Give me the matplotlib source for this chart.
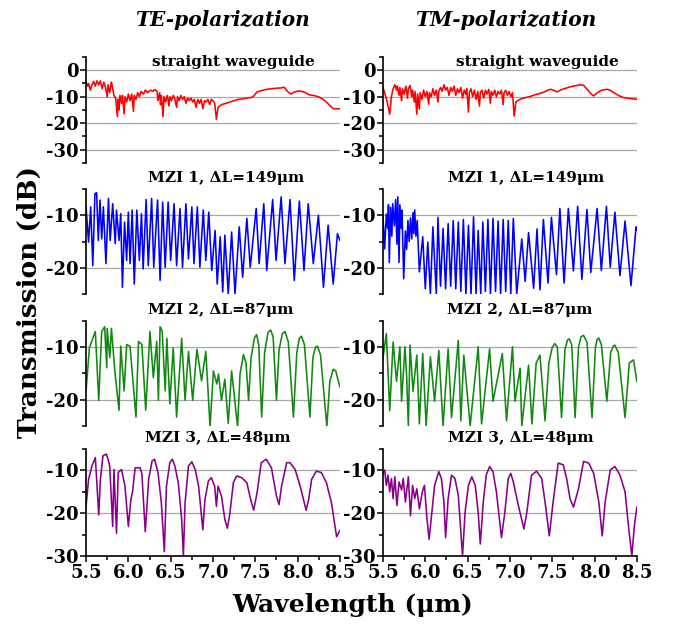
import matplotlib
matplotlib.use("Agg")
import matplotlib.pyplot as plt
from matplotlib.ticker import MultipleLocator, FormatStrFormatter

plt.rcParams["font.family"] = ["DejaVu Serif"]
plt.rcParams["font.weight"] = "bold"
plt.rcParams["axes.unicode_minus"] = False

OUTPUT_PATH = "out.png"

# straight waveguide, TE
te_straight_wl = [
    5.50, 5.52, 5.53, 5.55, 5.57, 5.59, 5.61, 5.63, 5.65, 5.67, 5.69, 5.71, 5.73, 5.75,
    5.76, 5.78, 5.80, 5.81, 5.83, 5.85, 5.87, 5.88, 5.89, 5.90, 5.92, 5.93, 5.95, 5.96,
    5.98, 6.00, 6.02, 6.04, 6.06, 6.07, 6.09, 6.11, 6.13, 6.15, 6.18, 6.20, 6.23, 6.26,
    6.29, 6.31, 6.34, 6.35, 6.37, 6.38, 6.39, 6.41, 6.42, 6.44, 6.46, 6.48, 6.49, 6.51,
    6.53, 6.55, 6.57, 6.58, 6.60, 6.62, 6.64, 6.66, 6.68, 6.70, 6.72, 6.74, 6.76, 6.78,
    6.80, 6.82, 6.84, 6.86, 6.88, 6.90, 6.92, 6.94, 6.96, 6.98, 7.00, 7.02, 7.04, 7.06,
    7.10, 7.15, 7.20, 7.25, 7.30, 7.35, 7.40, 7.45, 7.48, 7.52, 7.56, 7.62, 7.68, 7.74,
    7.80, 7.84, 7.88, 7.92, 7.96, 8.02, 8.08, 8.14, 8.20, 8.26, 8.30, 8.34, 8.38, 8.42,
    8.46, 8.50,
]
te_straight_db = [
    -4.5, -6.0, -5.0, -7.5, -5.5, -4.2, -6.0, -4.0, -5.5, -4.0, -7.0, -4.5, -6.5, -10.0,
    -5.5, -8.5, -4.5, -6.0, -9.5, -10.5, -17.5, -11.0, -15.0, -9.5, -12.5, -9.5, -16.5, -10.0,
    -12.0, -9.0, -11.5, -9.0, -15.5, -9.5, -11.0, -8.5, -10.0, -8.0, -9.0, -7.5, -8.5, -7.5,
    -8.0, -7.3, -8.0, -11.5, -8.5, -13.0, -9.5, -17.5, -10.0, -12.0, -9.5, -13.5, -10.0, -11.5,
    -9.5, -11.0, -14.0, -10.0, -11.5, -9.5, -11.0, -10.0, -12.5, -10.5, -11.5, -10.5, -12.0, -11.0,
    -14.0, -11.0, -12.5, -11.0, -14.5, -11.5, -12.0, -11.0, -13.0, -11.0, -11.5, -12.5, -18.5, -14.0,
    -13.0, -12.5, -12.0, -11.5, -11.0, -10.8, -10.5, -10.3, -9.8, -8.2, -7.8, -7.3, -7.0, -6.8,
    -6.7, -6.4, -8.0, -9.0, -8.2, -7.8, -8.3, -9.3, -9.6, -10.2, -11.0, -12.0, -13.3, -14.5,
    -14.6, -14.5,
]

# straight waveguide, TM
tm_straight_wl = [
    5.50, 5.52, 5.55, 5.58, 5.60, 5.62, 5.64, 5.66, 5.67, 5.69, 5.70, 5.72, 5.73, 5.75,
    5.77, 5.79, 5.80, 5.82, 5.84, 5.85, 5.87, 5.88, 5.90, 5.91, 5.93, 5.94, 5.96, 5.98,
    6.00, 6.02, 6.04, 6.05, 6.07, 6.09, 6.11, 6.13, 6.15, 6.16, 6.18, 6.20, 6.22, 6.24,
    6.26, 6.28, 6.30, 6.32, 6.34, 6.36, 6.38, 6.40, 6.42, 6.44, 6.46, 6.48, 6.49, 6.51,
    6.52, 6.54, 6.56, 6.58, 6.60, 6.62, 6.64, 6.65, 6.67, 6.69, 6.71, 6.73, 6.75, 6.77,
    6.78, 6.80, 6.82, 6.84, 6.86, 6.88, 6.90, 6.92, 6.93, 6.95, 6.97, 6.99, 7.01, 7.03,
    7.05, 7.07, 7.09, 7.12, 7.16, 7.20, 7.25, 7.30, 7.35, 7.40, 7.45, 7.48, 7.52, 7.56,
    7.60, 7.66, 7.72, 7.78, 7.84, 7.87, 7.92, 7.96, 7.99, 8.03, 8.08, 8.14, 8.18, 8.22,
    8.28, 8.34, 8.40, 8.45, 8.50,
]
tm_straight_db = [
    -6.5, -8.5, -12.0, -16.6, -10.0, -7.0, -5.5, -7.5, -6.0, -9.5, -6.5, -11.5, -7.0, -9.0,
    -6.0, -10.5, -7.0, -5.8, -10.0, -7.5, -12.0, -8.0, -16.6, -9.0, -14.7, -8.5, -11.0, -7.5,
    -10.0, -8.0, -12.8, -8.5, -10.0, -7.0, -9.5, -7.5, -12.0, -8.0, -6.5, -8.0, -5.5, -7.5,
    -6.5, -9.5, -6.5, -8.0, -6.0, -9.5, -7.0, -8.5, -6.5, -10.5, -7.5, -9.0, -7.0, -15.8,
    -8.5, -7.0, -10.0, -7.5, -11.0, -8.0, -13.5, -8.5, -7.5, -10.5, -7.5, -9.0, -7.2, -12.5,
    -8.0, -9.5, -7.5, -10.0, -8.0, -9.0, -7.5, -13.0, -8.5, -7.6, -9.5, -8.0, -10.0, -8.5,
    -17.3, -12.0, -11.5, -11.0, -10.5, -10.2, -9.8, -9.2, -8.8, -8.3, -7.5, -7.2, -7.6, -8.2,
    -7.4, -6.8, -6.2, -5.8, -5.5, -5.7, -7.5, -9.0, -9.7, -8.5, -7.6, -7.2, -7.5, -8.3,
    -9.5, -10.3, -10.6, -10.8, -11.0,
]

# MZI 1, dL = 149 um
te_mzi1_wl = [
    5.50, 5.53, 5.555, 5.58, 5.605, 5.625, 5.645, 5.665, 5.685, 5.705, 5.735, 5.765, 5.785,
    5.815, 5.845, 5.86, 5.89, 5.91, 5.93, 5.955, 5.98, 6.00, 6.02, 6.045, 6.07, 6.10, 6.13,
    6.155, 6.175, 6.21, 6.235, 6.275, 6.30, 6.345, 6.375, 6.405, 6.435, 6.47, 6.50, 6.54,
    6.57, 6.61, 6.64, 6.68, 6.71, 6.75, 6.775, 6.815, 6.845, 6.885, 6.915, 6.95, 6.985,
    7.025, 7.05, 7.085, 7.115, 7.14, 7.18, 7.22, 7.26, 7.31, 7.35, 7.40, 7.44, 7.51, 7.545,
    7.60, 7.635, 7.705, 7.745, 7.805, 7.85, 7.91, 7.96, 8.02, 8.075, 8.125, 8.185, 8.245,
    8.305, 8.36, 8.42, 8.47, 8.50,
]
te_mzi1_db = [
    -8.4, -15.1, -8.4, -19.6, -5.9, -5.7, -14.8, -7.1, -14.5, -8.4, -19.2, -6.8, -14.8,
    -7.8, -15.4, -9.0, -14.8, -9.7, -23.7, -11.3, -18.6, -9.4, -19.2, -9.0, -23.1, -9.0, -18.6,
    -9.7, -20.2, -7.0, -19.6, -6.8, -19.9, -7.1, -22.4, -7.5, -19.9, -7.5, -18.6, -7.8,
    -19.6, -8.7, -19.9, -7.8, -18.3, -8.4, -19.2, -8.4, -19.9, -9.0, -18.6, -9.4, -20.5,
    -12.9, -23.1, -14.1, -24.6, -13.8, -25.0, -13.2, -25.0, -12.2, -21.8, -10.6, -19.9, -8.7, -19.2,
    -7.8, -20.5, -7.0, -18.6, -6.5, -19.2, -7.0, -22.4, -7.3, -20.5, -7.8, -19.2, -10.0,
    -23.7, -11.9, -23.1, -13.5, -14.8,
]
tm_mzi1_wl = [
    5.50, 5.52, 5.54, 5.555, 5.565, 5.575, 5.59, 5.605, 5.615, 5.635, 5.65, 5.665, 5.675,
    5.69, 5.70, 5.715, 5.725, 5.745, 5.765, 5.78, 5.795, 5.81, 5.825, 5.84, 5.855, 5.865,
    5.875, 5.89, 5.905, 5.93, 5.97, 6.00, 6.03, 6.06, 6.09, 6.13, 6.15, 6.18, 6.21, 6.24,
    6.27, 6.30, 6.33, 6.36, 6.39, 6.42, 6.45, 6.48, 6.51, 6.54, 6.57, 6.60, 6.625, 6.655,
    6.68, 6.71, 6.74, 6.77, 6.80, 6.83, 6.86, 6.89, 6.92, 6.95, 6.98, 7.01, 7.04, 7.08,
    7.14, 7.18, 7.22, 7.28, 7.32, 7.355, 7.395, 7.45, 7.49, 7.55, 7.59, 7.64, 7.69, 7.75,
    7.80, 7.85, 7.91, 7.955, 8.03, 8.08, 8.14, 8.185, 8.24, 8.30, 8.36, 8.43, 8.49, 8.50,
]
tm_mzi1_db = [
    -10.0, -16.4, -9.8, -12.5, -8.0, -19.0, -8.5, -14.0, -7.8, -12.0, -7.0, -15.5, -6.5,
    -19.0, -8.0, -12.5, -9.0, -22.1, -13.0, -16.5, -11.0, -15.0, -10.5, -14.5, -9.5, -13.5,
    -9.0, -14.0, -11.0, -20.8, -14.1, -24.0, -15.1, -25.0, -12.2, -25.0, -10.4, -23.5, -12.5, -24.0,
    -11.6, -23.5, -11.0, -24.0, -11.3, -24.5, -10.8, -25.0, -11.9, -25.0, -10.3, -25.0, -12.9, -25.0,
    -11.3, -24.5, -10.8, -25.0, -10.6, -24.5, -11.1, -25.0, -10.8, -24.5, -11.0, -25.0, -10.6, -25.0,
    -14.5, -22.6, -13.3, -23.9, -12.6, -24.2, -10.8, -22.9, -10.4, -21.3, -8.7, -22.9, -8.7, -20.6,
    -8.3, -22.2, -8.9, -20.9, -8.7, -20.5, -8.3, -19.9, -9.4, -21.5, -11.1, -23.4, -12.2, -12.8,
]

# MZI 2, dL = 87 um
te_mzi2_wl = [
    5.50, 5.54, 5.61, 5.65, 5.685, 5.72, 5.745, 5.75, 5.78, 5.80, 5.84, 5.89, 5.91, 5.95,
    5.98, 6.02, 6.09, 6.12, 6.16, 6.205, 6.255, 6.295, 6.335, 6.355, 6.375, 6.40, 6.435,
    6.455, 6.49, 6.53, 6.57, 6.63, 6.67, 6.71, 6.76, 6.81, 6.865, 6.915, 6.965, 7.005,
    7.045, 7.065, 7.10, 7.14, 7.18, 7.22, 7.29, 7.32, 7.36, 7.39, 7.42, 7.45, 7.49, 7.515,
    7.54, 7.575, 7.61, 7.65, 7.68, 7.71, 7.75, 7.78, 7.82, 7.85, 7.89, 7.95, 7.99, 8.02,
    8.045, 8.08, 8.145, 8.18, 8.21, 8.235, 8.27, 8.345, 8.38, 8.42, 8.45, 8.50,
]
te_mzi2_db = [
    -18.3, -10.1, -7.0, -20.1, -7.0, -6.1, -13.9, -6.4, -12.0, -6.4, -14.5, -22.0, -9.8, -18.3,
    -9.5, -9.8, -23.3, -8.9, -9.5, -22.0, -7.0, -15.8, -8.9, -20.1, -6.1, -7.0, -18.3,
    -8.3, -20.8, -10.1, -23.3, -8.3, -20.1, -10.8, -20.1, -10.4, -16.4, -10.8, -25.1, -14.5,
    -17.0, -15.1, -20.1, -16.1, -24.5, -14.5, -25.1, -15.0, -11.4, -13.0, -20.1, -12.0, -8.2, -7.6,
    -9.5, -23.3, -11.0, -7.2, -6.7, -8.0, -20.1, -10.5, -7.4, -7.0, -9.0, -23.3, -11.0, -8.3,
    -7.9, -9.5, -23.3, -12.0, -10.0, -9.8, -11.5, -25.1, -16.5, -14.2, -14.5, -17.6,
]
tm_mzi2_wl = [
    5.50, 5.54, 5.58, 5.62, 5.66, 5.70, 5.72, 5.76, 5.78, 5.80, 5.82, 5.855, 5.90, 5.93,
    5.97, 6.01, 6.06, 6.11, 6.16, 6.21, 6.27, 6.31, 6.39, 6.42, 6.455, 6.53, 6.625, 6.665,
    6.76, 6.80, 6.91, 6.96, 7.03, 7.06, 7.12, 7.14, 7.22, 7.26, 7.31, 7.355, 7.415, 7.46,
    7.50, 7.53, 7.56, 7.61, 7.65, 7.68, 7.70, 7.73, 7.77, 7.81, 7.84, 7.87, 7.91, 7.97,
    8.01, 8.03, 8.05, 8.08, 8.145, 8.19, 8.22, 8.24, 8.28, 8.36, 8.41, 8.46, 8.50,
]
tm_mzi2_db = [
    -12.1, -7.4, -22.1, -9.0, -16.5, -9.9, -20.3, -9.9, -15.6, -25.0, -9.6, -18.4, -11.5, -24.6,
    -11.2, -25.0, -11.8, -20.3, -10.6, -25.0, -10.3, -23.4, -8.7, -24.0, -11.5, -25.0, -9.9, -24.6,
    -10.3, -20.3, -11.2, -24.0, -9.9, -20.3, -14.0, -25.0, -13.4, -24.6, -13.0, -11.5, -24.0, -13.0,
    -10.0, -9.3, -10.0, -23.4, -10.5, -8.6, -8.4, -9.5, -23.4, -10.0, -8.0, -7.75, -9.0, -23.4,
    -10.0, -8.5, -8.25, -9.5, -20.3, -11.0, -9.8, -9.6, -11.0, -23.4, -13.0, -12.4, -16.5,
]

# MZI 3, dL = 48 um
te_mzi3_wl = [
    5.50, 5.53, 5.57, 5.61, 5.63, 5.65, 5.67, 5.70, 5.74, 5.76, 5.78, 5.815, 5.83, 5.86,
    5.88, 5.92, 5.96, 6.00, 6.03, 6.05, 6.08, 6.14, 6.16, 6.20, 6.24, 6.28, 6.31, 6.35,
    6.39, 6.425, 6.45, 6.49, 6.52, 6.55, 6.59, 6.63, 6.65, 6.67, 6.71, 6.75, 6.79, 6.83,
    6.88, 6.905, 6.945, 6.98, 7.02, 7.04, 7.06, 7.10, 7.14, 7.17, 7.20, 7.24, 7.28, 7.34,
    7.40, 7.445, 7.48, 7.52, 7.57, 7.63, 7.69, 7.75, 7.78, 7.81, 7.87, 7.91, 7.97, 8.03,
    8.10, 8.13, 8.165, 8.22, 8.28, 8.34, 8.40, 8.46, 8.50,
]
te_mzi3_db = [
    -18.4, -12.1, -9.0, -7.0, -13.7, -20.4, -12.1, -6.6, -6.2, -7.4, -9.0, -23.1, -9.8, -24.7,
    -10.5, -9.8, -13.7, -23.1, -16.8, -14.9, -9.4, -9.4, -10.9, -24.3, -12.1, -7.8, -7.4, -10.5,
    -17.6, -29.0, -13.7, -8.2, -7.4, -9.0, -12.9, -21.5, -30.0, -17.6, -9.0, -8.0, -9.8, -13.7,
    -23.9, -16.8, -12.5, -11.7, -13.7, -18.4, -13.7, -16.0, -21.5, -23.5, -20.0, -12.9, -11.3, -11.7,
    -12.9, -16.8, -19.3, -15.3, -8.2, -7.4, -9.4, -16.0, -18.0, -13.7, -8.2, -8.2, -9.8, -13.7,
    -19.3, -16.8, -12.1, -10.2, -10.5, -12.9, -17.6, -25.5, -24.0,
]
tm_mzi3_wl = [
    5.50, 5.52, 5.54, 5.56, 5.58, 5.60, 5.62, 5.64, 5.665, 5.69, 5.72, 5.74, 5.765, 5.80,
    5.825, 5.85, 5.875, 5.90, 5.93, 5.965, 5.99, 6.02, 6.045, 6.07, 6.11, 6.16, 6.19, 6.22,
    6.24, 6.27, 6.31, 6.35, 6.39, 6.44, 6.47, 6.51, 6.55, 6.59, 6.625, 6.65, 6.685, 6.72,
    6.76, 6.80, 6.84, 6.90, 6.94, 6.98, 7.01, 7.04, 7.10, 7.165, 7.20, 7.255, 7.315, 7.375,
    7.415, 7.465, 7.51, 7.57, 7.63, 7.67, 7.71, 7.75, 7.81, 7.87, 7.93, 7.99, 8.05, 8.09,
    8.125, 8.185, 8.24, 8.30, 8.36, 8.40, 8.44, 8.47, 8.50,
]
tm_mzi3_db = [
    -10.7, -9.9, -13.5, -11.1, -15.0, -11.9, -16.6, -11.5, -18.2, -12.7, -14.6, -11.9, -17.4, -11.5,
    -20.6, -13.5, -16.6, -14.3, -19.0, -15.0, -13.5, -21.3, -26.1, -21.3, -13.5, -10.3, -11.9, -17.4,
    -25.7, -16.6, -11.1, -11.9, -15.8, -30.0, -19.8, -13.5, -11.5, -13.5, -19.8, -27.2, -17.4, -11.1,
    -9.1, -10.3, -15.0, -25.7, -19.8, -11.9, -10.7, -12.7, -18.2, -23.7, -19.8, -11.1, -10.2, -11.9,
    -17.4, -25.3, -17.4, -8.3, -8.7, -11.9, -16.6, -18.6, -14.3, -7.9, -8.3, -10.7, -17.4, -25.3,
    -17.4, -9.9, -9.1, -11.1, -15.0, -22.9, -30.0, -22.9, -18.6,
]

row_labels = [
    "straight waveguide",
    "MZI 1, ΔL=149μm",
    "MZI 2, ΔL=87μm",
    "MZI 3, ΔL=48μm",
]
row_colors = ["#ff0000", "#0000ff", "#118811", "#880088"]
row_ylims = [(-35, 5), (-25, -5), (-25, -5), (-30, -5)]
x_ticks = [5.5, 6.0, 6.5, 7.0, 7.5, 8.0, 8.5]


def style_axis(ax, ylim, bottom_row):
    ax.set_xlim(5.5, 8.5)
    ax.set_ylim(*ylim)
    ax.yaxis.set_major_locator(MultipleLocator(10))
    ax.yaxis.set_minor_locator(MultipleLocator(5))
    ax.grid(axis="y", which="major", color="#a8a8a8", linewidth=0.9)
    ax.set_axisbelow(True)
    for side in ("top", "right"):
        ax.spines[side].set_visible(False)
    ax.spines["left"].set_linewidth(1.2)
    ax.tick_params(axis="y", which="major", direction="out", length=4, width=1.1,
                   labelsize=13, pad=1)
    ax.tick_params(axis="y", which="minor", direction="out", length=3, width=1.1)
    if bottom_row:
        ax.spines["bottom"].set_linewidth(1.2)
        ax.set_xticks(x_ticks)
        ax.xaxis.set_minor_locator(MultipleLocator(0.25))
        ax.xaxis.set_major_formatter(FormatStrFormatter("%.1f"))
        ax.tick_params(axis="x", which="major", direction="out", length=4, width=1.1,
                       labelsize=13, pad=2)
        ax.tick_params(axis="x", which="minor", direction="out", length=3, width=1.1)
    else:
        ax.spines["bottom"].set_visible(False)
        ax.set_xticks([])


def main():
    fig = plt.figure(figsize=(6.79, 6.24), dpi=100)

    series = [
        [(te_straight_wl, te_straight_db), (tm_straight_wl, tm_straight_db)],
        [(te_mzi1_wl, te_mzi1_db), (tm_mzi1_wl, tm_mzi1_db)],
        [(te_mzi2_wl, te_mzi2_db), (tm_mzi2_wl, tm_mzi2_db)],
        [(te_mzi3_wl, te_mzi3_db), (tm_mzi3_wl, tm_mzi3_db)],
    ]
    col_left = [0.1267, 0.564]
    col_width = 0.374
    row_bottom = [0.7388, 0.5288, 0.3173, 0.1090]
    row_height = [0.1699, 0.1683, 0.1683, 0.1715]
    label_x = [[0.58, 0.61], [0.55, 0.563], [0.53, 0.54], [0.52, 0.543]]
    label_y = [0.95, 1.105, 1.105, 1.10]

    for r in range(4):
        for c in range(2):
            ax = fig.add_axes([col_left[c], row_bottom[r], col_width, row_height[r]])
            wl, db = series[r][c]
            ax.plot(wl, db, color=row_colors[r], linewidth=1.15)
            style_axis(ax, row_ylims[r], r == 3)
            ax.text(label_x[r][c], label_y[r], row_labels[r], transform=ax.transAxes,
                    ha="center", va="center", fontsize=11, fontweight="bold")

    fig.text(0.328, 0.968, "TE-polarization", ha="center", va="center",
             fontsize=14.5, fontweight="bold", fontstyle="italic")
    fig.text(0.745, 0.968, "TM-polarization", ha="center", va="center",
             fontsize=14.5, fontweight="bold", fontstyle="italic")
    fig.text(0.043, 0.516, "Transmission (dB)", rotation=90, ha="center", va="center",
             fontsize=19, fontweight="bold")
    fig.text(0.52, 0.030, "Wavelength (μm)", ha="center", va="center",
             fontsize=18, fontweight="bold")

    fig.savefig(OUTPUT_PATH, dpi=100)


if __name__ == "__main__":
    main()
